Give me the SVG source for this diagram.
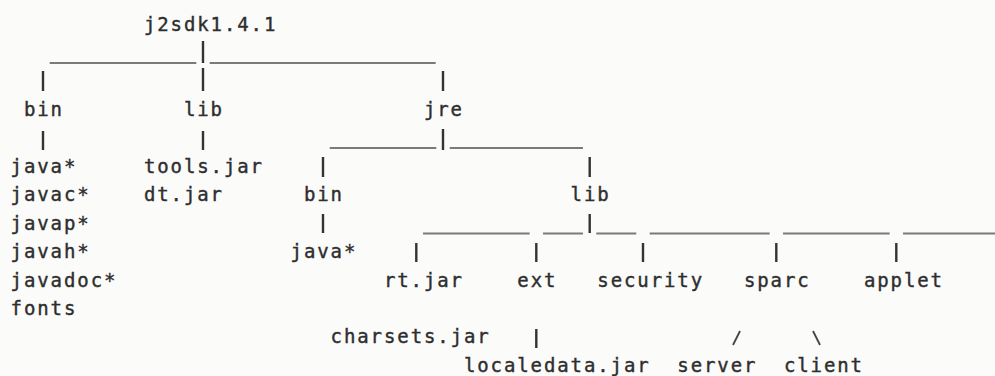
<svg xmlns="http://www.w3.org/2000/svg" width="995" height="376" viewBox="0 0 995 376">
  <style>
    .t { font-family: "DejaVu Sans Mono", "Liberation Mono", monospace; font-size: 19px; letter-spacing: 1.9px; fill: #2e2e2e; stroke: #2e2e2e; stroke-width: 0.4px; }
    .v { stroke: #333; stroke-width: 2.4; stroke-linecap: butt; fill: none; }
    .s { stroke: #444; stroke-width: 1.8; fill: none; }
    .h { stroke: #7a7a7a; stroke-width: 2; fill: none; }
  </style>
  <rect width="995" height="376" fill="#fbfbfa"/>

  <!-- connectors: underscore runs and pipe / slash strokes of the tree -->
  <g id="connectors">
    <!-- row 1 -->
    <line class="h" x1="49.7" y1="62.9" x2="196.3" y2="62.9"/>
    <line class="h" x1="209.7" y1="62.9" x2="435.7" y2="62.9"/>
    <line class="v" x1="203" y1="41" x2="203" y2="63"/>
    <!-- row 2 -->
    <line class="v" x1="43" y1="71" x2="43" y2="91"/>
    <line class="v" x1="203" y1="68" x2="203" y2="91"/>
    <line class="v" x1="443" y1="71" x2="443" y2="91"/>
    <!-- row 4 -->
    <line class="h" x1="329.7" y1="148" x2="436.3" y2="148"/>
    <line class="h" x1="449.7" y1="148" x2="583" y2="148"/>
    <line class="v" x1="43" y1="131" x2="43" y2="150"/>
    <line class="v" x1="203" y1="131" x2="203" y2="150"/>
    <line class="v" x1="443" y1="129" x2="443" y2="150"/>
    <!-- row 5 -->
    <line class="v" x1="323" y1="157" x2="323" y2="177"/>
    <line class="v" x1="589.7" y1="157" x2="589.7" y2="177"/>
    <!-- row 7 -->
    <line class="h" x1="423" y1="233.5" x2="529.7" y2="233.5"/>
    <line class="h" x1="543" y1="233.5" x2="583" y2="233.5"/>
    <line class="h" x1="596.3" y1="233.5" x2="636.3" y2="233.5"/>
    <line class="h" x1="649.7" y1="233.5" x2="769.7" y2="233.5"/>
    <line class="h" x1="783" y1="233.5" x2="889.7" y2="233.5"/>
    <line class="h" x1="903" y1="233.5" x2="995" y2="233.5"/>
    <line class="v" x1="323" y1="214" x2="323" y2="233"/>
    <line class="v" x1="589.7" y1="214" x2="589.7" y2="233"/>
    <!-- row 8 -->
    <line class="v" x1="416.3" y1="243" x2="416.3" y2="262"/>
    <line class="v" x1="536.3" y1="243" x2="536.3" y2="262"/>
    <line class="v" x1="643" y1="243" x2="643" y2="262"/>
    <line class="v" x1="776.3" y1="243" x2="776.3" y2="262"/>
    <line class="v" x1="896.3" y1="243" x2="896.3" y2="262"/>
    <!-- row 11 -->
    <line class="v" x1="536.3" y1="329" x2="536.3" y2="348"/>
    <line class="s" x1="733" y1="345" x2="740" y2="331"/>
    <line class="s" x1="813" y1="331" x2="820" y2="345"/>
  </g>

  <!-- directory and file names -->
  <g id="j2sdk"><text class="t" x="143.9" y="31">j2sdk1.4.1</text></g>

  <g id="sdk-bin"><text class="t" x="23.9" y="116.2">bin</text></g>
  <g id="sdk-lib"><text class="t" x="183.9" y="116.2">lib</text></g>
  <g id="jre"><text class="t" x="423.9" y="116.2">jre</text></g>

  <g id="sdk-bin-files">
    <text class="t" x="10.6" y="173">java*</text>
    <text class="t" x="10.6" y="201.4">javac*</text>
    <text class="t" x="10.6" y="229.8">javap*</text>
    <text class="t" x="10.6" y="258.2">javah*</text>
    <text class="t" x="10.6" y="286.6">javadoc*</text>
    <text class="t" x="10.6" y="315">fonts</text>
  </g>

  <g id="sdk-lib-files">
    <text class="t" x="143.9" y="173">tools.jar</text>
    <text class="t" x="143.9" y="201.4">dt.jar</text>
  </g>

  <g id="jre-bin"><text class="t" x="303.9" y="201.4">bin</text></g>
  <g id="jre-bin-files"><text class="t" x="290.6" y="258.2">java*</text></g>
  <g id="jre-lib"><text class="t" x="570.6" y="201.4">lib</text></g>

  <g id="rt-jar"><text class="t" x="383.9" y="286.6">rt.jar</text></g>
  <g id="ext"><text class="t" x="517.3" y="286.6">ext</text></g>
  <g id="security"><text class="t" x="597.3" y="286.6">security</text></g>
  <g id="sparc"><text class="t" x="743.9" y="286.6">sparc</text></g>
  <g id="applet"><text class="t" x="863.9" y="286.6">applet</text></g>

  <g id="charsets-jar"><text class="t" x="330.6" y="343.4">charsets.jar</text></g>
  <g id="localedata-jar"><text class="t" x="463.9" y="371.8">localedata.jar</text></g>
  <g id="server"><text class="t" x="677.3" y="371.8">server</text></g>
  <g id="client"><text class="t" x="783.9" y="371.8">client</text></g>
</svg>
